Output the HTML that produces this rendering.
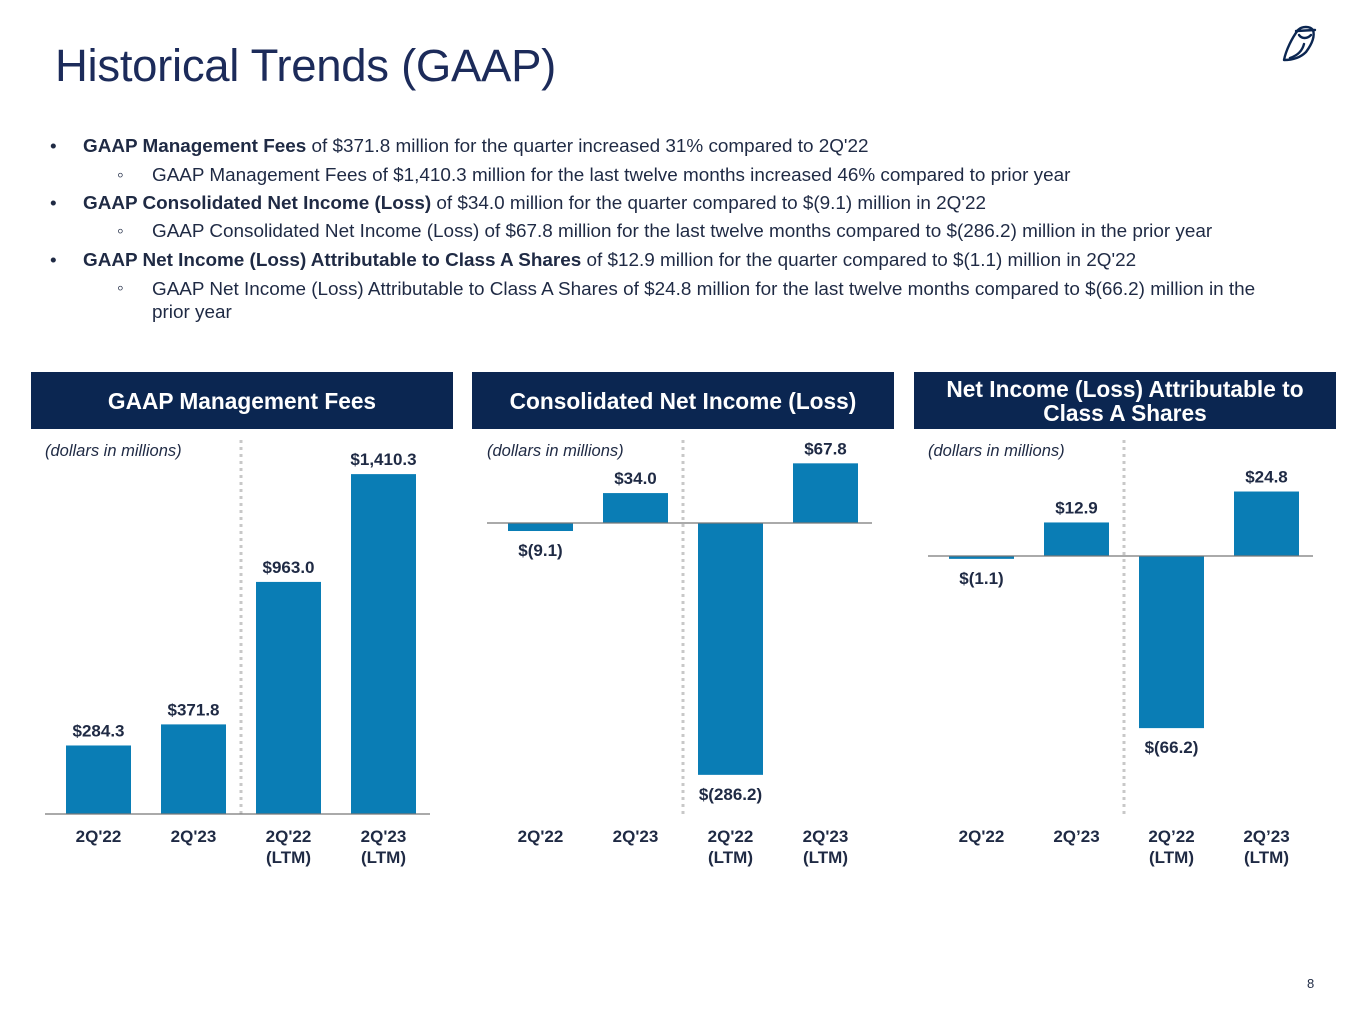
<!DOCTYPE html>
<html><head><meta charset="utf-8"><style>
body{margin:0;background:#fff;}
#page{position:relative;width:1365px;height:1024px;overflow:hidden;font-family:"Liberation Sans",Arial,sans-serif;color:#1f2a44;}
h1{position:absolute;left:55px;top:40px;margin:0;font-weight:normal;font-size:45.5px;color:#1c2b5a;letter-spacing:-0.3px;}
.b{position:absolute;font-size:18.9px;color:#1f2a44;white-space:nowrap;}
.hdr{position:absolute;top:372px;height:57px;background:#0b2651;color:#fff;font-weight:bold;font-size:22.7px;display:flex;align-items:center;justify-content:center;text-align:center;line-height:24px;}
svg text{font-family:"Liberation Sans",Arial,sans-serif;}
</style></head><body>
<div id="page">
<h1>Historical Trends (GAAP)</h1>
<svg style="position:absolute;left:1278px;top:22px" width="40" height="42" viewBox="0 0 40 42"><g fill="none" stroke="#0b2651" stroke-width="2.4" stroke-linecap="round" stroke-linejoin="round"><path d="M6 38 C8 28 14 16 20 8 C24 4 32 4 35 8 C37 14 34 22 28 30 C22 36 14 38 6 38 Z"/><path d="M18 9 L37 8"/><path d="M21 13 C24 17 29 17 33 13"/><path d="M26 22 C24 30 18 34 12 36"/></g></svg>

<div class="b" style="left:50px;top:136px"><span style="position:absolute;left:0">•</span><span style="position:absolute;left:33px"><b>GAAP Management Fees</b> of $371.8 million for the quarter increased 31% compared to 2Q'22</span></div>
<div class="b" style="left:117px;top:165px">◦<span style="position:absolute;left:35px">GAAP Management Fees of $1,410.3 million for the last twelve months increased 46% compared to prior year</span></div>
<div class="b" style="left:50px;top:193px"><span style="position:absolute;left:0">•</span><span style="position:absolute;left:33px"><b>GAAP Consolidated Net Income (Loss)</b> of $34.0 million for the quarter compared to $(9.1) million in 2Q'22</span></div>
<div class="b" style="left:117px;top:221px">◦<span style="position:absolute;left:35px">GAAP Consolidated Net Income (Loss) of $67.8 million for the last twelve months compared to $(286.2) million in the prior year</span></div>
<div class="b" style="left:50px;top:250px"><span style="position:absolute;left:0">•</span><span style="position:absolute;left:33px"><b>GAAP Net Income (Loss) Attributable to Class A Shares</b> of $12.9 million for the quarter compared to $(1.1) million in 2Q'22</span></div>
<div class="b" style="left:117px;top:278px">◦<span style="position:absolute;left:35px;line-height:23px">GAAP Net Income (Loss) Attributable to Class A Shares of $24.8 million for the last twelve months compared to $(66.2) million in the<br>prior year</span></div>

<div class="hdr" style="left:31px;width:422px">GAAP Management Fees</div>
<div class="hdr" style="left:472px;width:422px">Consolidated Net Income (Loss)</div>
<div class="hdr" style="left:914px;width:422px">Net Income (Loss) Attributable to<br>Class A Shares</div>

<svg id="charts" style="position:absolute;left:0;top:0" width="1365" height="1024"></svg>
<div style="position:absolute;left:1307px;top:976px;font-size:13px;color:#1f2a44">8</div>
</div>
<script>
const catsA=[["2Q'22"],["2Q'23"],["2Q'22","(LTM)"],["2Q'23","(LTM)"]];
const valsA=[284.3,371.8,963.0,1410.3];
const labsA=["$284.3","$371.8","$963.0","$1,410.3"];
const catsB=[["2Q'22"],["2Q'23"],["2Q'22","(LTM)"],["2Q'23","(LTM)"]];
const valsB=[-9.1,34.0,-286.2,67.8];
const labsB=["$(9.1)","$34.0","$(286.2)","$67.8"];
const catsC=[["2Q'22"],["2Q’23"],["2Q’22","(LTM)"],["2Q’23","(LTM)"]];
const valsC=[-1.1,12.9,-66.2,24.8];
const labsC=["$(1.1)","$12.9","$(66.2)","$24.8"];

const NS="http://www.w3.org/2000/svg";
const svg=document.getElementById('charts');
function mk(t,a,txt){const e=document.createElementNS(NS,t);for(const k in a)e.setAttribute(k,a[k]);if(txt!=null)e.textContent=txt;svg.appendChild(e);return e;}
function chart(id,x0,zeroY,scale,cats,vals,labs,axisY){
  const x=i=>x0+i*95;
  const y=v=>zeroY-v*scale;
  let t=mk('text',{x:x0-21,y:456,'font-size':16.5,'font-style':'italic',fill:'#1f2a44'},'(dollars in millions)');
  
  
  let s=mk('line',{x1:x0+175,x2:x0+175,y1:440,y2:814,stroke:'#c8c8c8','stroke-width':3,'stroke-dasharray':'3,4'});
  
  
  vals.forEach((v,i)=>{
    const top=Math.min(y(v),y(0)),h=Math.abs(y(v)-y(0));
    let r=mk('rect',{x:x(i),y:top,width:65,height:h,fill:'#0a7db5'});
    
    
    const ly=v>=0?top-9:top+h+25;
    let l=mk('text',{x:x(i)+32.5,y:ly,'text-anchor':'middle','font-size':17,'font-weight':'bold',fill:'#1f2a44'},labs[i]);
    
    
    cats[i].forEach((c,j)=>{
      let ct=mk('text',{x:x(i)+32.5,y:842+j*21,'text-anchor':'middle','font-size':17,'font-weight':'bold',fill:'#1f2a44'},c);
      
      
    });
  });
  let ax=mk('line',{x1:x0-21,x2:x0+364,y1:axisY,y2:axisY,stroke:'#777','stroke-width':1.3});
  
  
}
chart('management-fees',66,814,0.241,catsA,valsA,labsA,814);
chart('consolidated-income',508,523,0.88,catsB,valsB,labsB,523);
chart('class-a-income',949,556,2.6,catsC,valsC,labsC,556);
</script>
</body></html>
